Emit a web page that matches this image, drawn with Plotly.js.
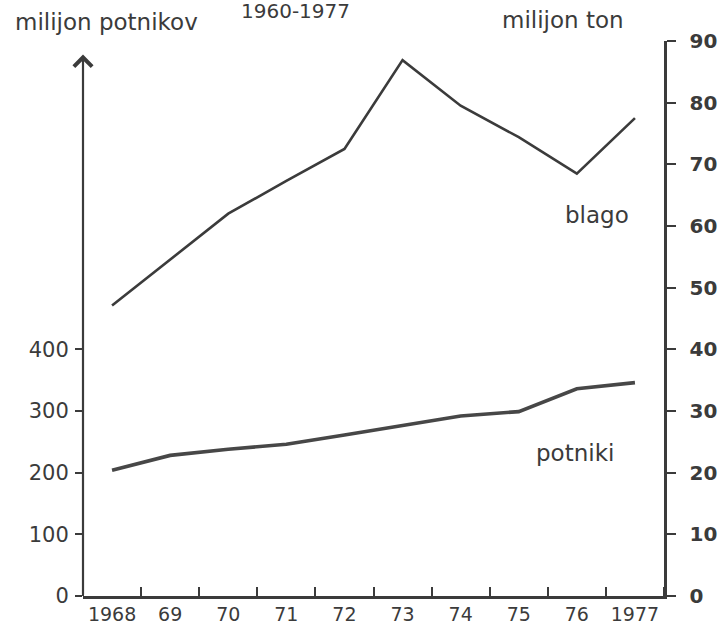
<!DOCTYPE html>
<html>
<head>
<meta charset="utf-8">
<script src="https://cdn.plot.ly/plotly-3.0.1.min.js"></script>
<style>
  html, body { margin: 0; padding: 0; background: #ffffff; }
  #chart { width: 719px; height: 624px; }
</style>
</head>
<body>
<div id="chart"></div>
<script>
// ---- data ----
const years = [1968, 1969, 1970, 1971, 1972, 1973, 1974, 1975, 1976, 1977];
const yearLabels = ['1968', '69', '70', '71', '72', '73', '74', '75', '76', '1977'];
// goods, million tonnes (right axis)
const blago = [47.1, 54.5, 62.0, 67.3, 72.5, 86.9, 79.5, 74.4, 68.5, 77.5];
// passengers, millions (left axis)
const potniki = [204, 228, 238, 246, 261, 276, 292, 299, 336, 346];
const leftTicks = [0, 100, 200, 300, 400];
const rightTicks = [0, 10, 20, 30, 40, 50, 60, 70, 80, 90];

const ink = '#3b3b3b';
const FONT = 'DejaVu Sans, sans-serif';

const traces = [
  {
    x: years, y: blago, yaxis: 'y2', type: 'scatter', mode: 'lines',
    line: { color: ink, width: 2.6 }, name: 'blago', hoverinfo: 'skip'
  },
  {
    x: years, y: potniki, yaxis: 'y', type: 'scatter', mode: 'lines',
    line: { color: '#474747', width: 3.6 }, name: 'potniki', hoverinfo: 'skip'
  }
];

const layout = {
  width: 719, height: 624,
  margin: { l: 83, r: 55, t: 41, b: 28, pad: 0 },
  paper_bgcolor: '#ffffff', plot_bgcolor: '#ffffff',
  showlegend: false,
  xaxis: {
    range: [1967.5, 1977.5],
    tickmode: 'array', tickvals: years, ticktext: yearLabels,
    ticks: '', ticklen: 0, showgrid: false, zeroline: false,
    showline: true, linecolor: ink, linewidth: 2.5,
    tickfont: { family: FONT, size: 19, color: ink },
    minor: { tickmode: 'linear', tick0: 1968.5, dtick: 1, ticks: 'inside', ticklen: 9, tickwidth: 2, tickcolor: ink, showgrid: false },
    fixedrange: true
  },
  yaxis: {
    range: [0, 900],
    tickmode: 'array', tickvals: leftTicks,
    ticks: 'outside', ticklen: 7, tickwidth: 2, tickcolor: ink,
    showgrid: false, zeroline: false, showline: false,
    tickfont: { family: FONT, size: 21, color: ink },
    ticklabelstandoff: 2,
    fixedrange: true
  },
  yaxis2: {
    overlaying: 'y', side: 'right', anchor: 'x',
    range: [0, 90],
    tickmode: 'array', tickvals: rightTicks,
    ticks: 'outside', ticklen: 9, tickwidth: 2, tickcolor: ink,
    showgrid: false, zeroline: false,
    showline: true, linecolor: ink, linewidth: 2.5,
    tickfont: { family: FONT, size: 20, color: ink, weight: 'bold' },
    ticklabelstandoff: 10,
    fixedrange: true
  },
  annotations: [
    { // left axis drawn as an arrow
      xref: 'x', yref: 'y', axref: 'x', ayref: 'y',
      x: 1967.5, y: 878, ax: 1967.5, ay: 0,
      text: '', showarrow: true, arrowhead: 4, arrowsize: 1.6, arrowwidth: 2.2, arrowcolor: ink
    },
    { xref: 'paper', yref: 'paper', x: 0.365, y: 1.054, xanchor: 'center', yanchor: 'middle',
      text: '1960-1977', showarrow: false, font: { family: FONT, size: 20, color: ink } },
    { xref: 'paper', yref: 'paper', x: 0.040, y: 1.034, xanchor: 'center', yanchor: 'middle',
      text: 'milijon potnikov', showarrow: false, font: { family: FONT, size: 23, color: ink } },
    { xref: 'paper', yref: 'paper', x: 0.826, y: 1.037, xanchor: 'center', yanchor: 'middle',
      text: 'milijon ton', showarrow: false, font: { family: FONT, size: 23, color: ink } },
    { xref: 'x', yref: 'y2', x: 1976.35, y: 61.8, xanchor: 'center', yanchor: 'middle',
      text: 'blago', showarrow: false, font: { family: FONT, size: 23, color: ink } },
    { xref: 'x', yref: 'y2', x: 1975.97, y: 23.2, xanchor: 'center', yanchor: 'middle',
      text: 'potniki', showarrow: false, font: { family: FONT, size: 23, color: ink } }
  ]
};

Plotly.newPlot('chart', traces, layout, { staticPlot: true, displayModeBar: false });
</script>
</body>
</html>
